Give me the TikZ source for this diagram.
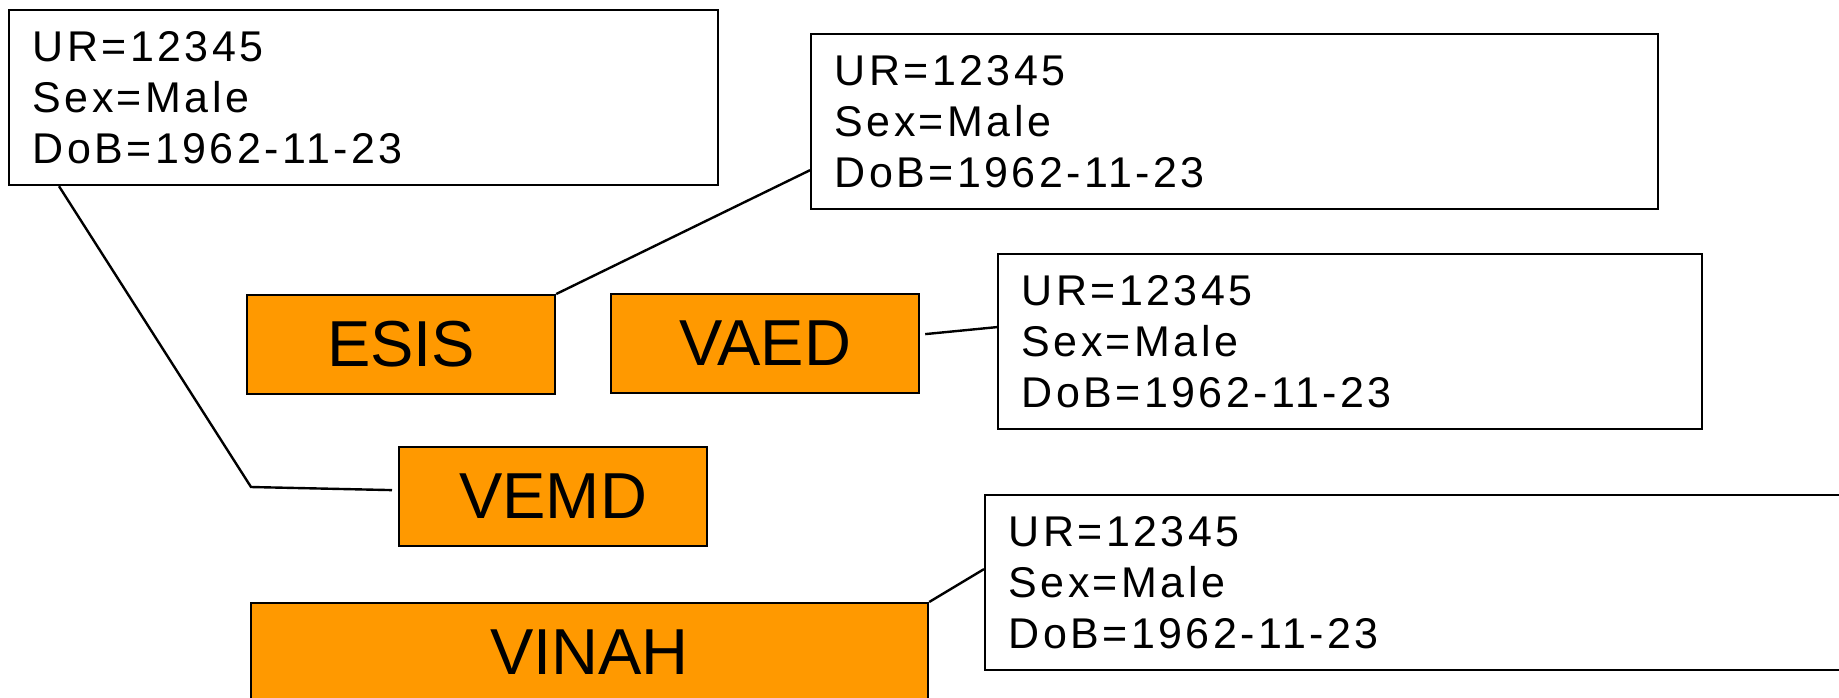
\documentclass[tikz,border=0pt]{standalone}
\usepackage{fontspec}
\usepackage{tikz}
\usetikzlibrary{positioning}

\newfontfamily\recfamily{Liberation Sans}[LetterSpace=8]
\newfontfamily\srcfamily{Liberation Sans}
\newcommand{\recfont}{\recfamily\fontsize{21.5pt}{25.3pt}\selectfont}
\newcommand{\srcfont}{\srcfamily\fontsize{32.5pt}{38pt}\selectfont}
\definecolor{srcorange}{RGB}{255,153,0}

\tikzset{
  src/.style={draw, fill=srcorange, line width=1.1pt, anchor=north west,
    inner sep=0pt, minimum width=154pt, minimum height=49.5pt, font=\srcfont},
  rec/.style={draw, line width=1.1pt, anchor=north west, inner xsep=11.75pt,
    inner ysep=0pt, minimum height=87.5pt, align=left, font=\recfont},
  link/.style={line width=1.2pt}
}

\begin{document}
\begin{tikzpicture}[x=0.5pt,y=-0.5pt]

  \path[use as bounding box, clip] (0,0) rectangle (1839,697);

  \node[rec, text width=331pt] (r1) at (8,9) {UR=12345\\Sex=Male\\DoB=1962-11-23};
  \node[rec, text width=400pt] (r2) at (810,33) {UR=12345\\Sex=Male\\DoB=1962-11-23};
  \node[rec, text width=328.5pt] (r3) at (997,253) {UR=12345\\Sex=Male\\DoB=1962-11-23};
  \node[rec, text width=430pt] (r4) at (984,494) {UR=12345\\Sex=Male\\DoB=1962-11-23};

  \node[src] (s1) at (246,294) {ESIS};
  \node[src] (s2) at (610,293) {VAED};
  \node[src] (s3) at (398,446) {VEMD};
  \node[src, minimum width=338.5pt] (s4) at (250,602) {VINAH};

  \coordinate (bend) at (251,487);

  \draw[link] ([xshift=25.5pt]r1.south west) -- (bend) -- ([shift={(-3pt,3.25pt)}]s3.west);
  \draw[link] (s1.north east) -- ([yshift=20pt]r2.south west);
  \draw[link] ([shift={(2.5pt,4.75pt)}]s2.east) -- ([yshift=7.25pt]r3.west);
  \draw[link] (s4.north east) -- ([yshift=6.75pt]r4.west);

\end{tikzpicture}
\end{document}
